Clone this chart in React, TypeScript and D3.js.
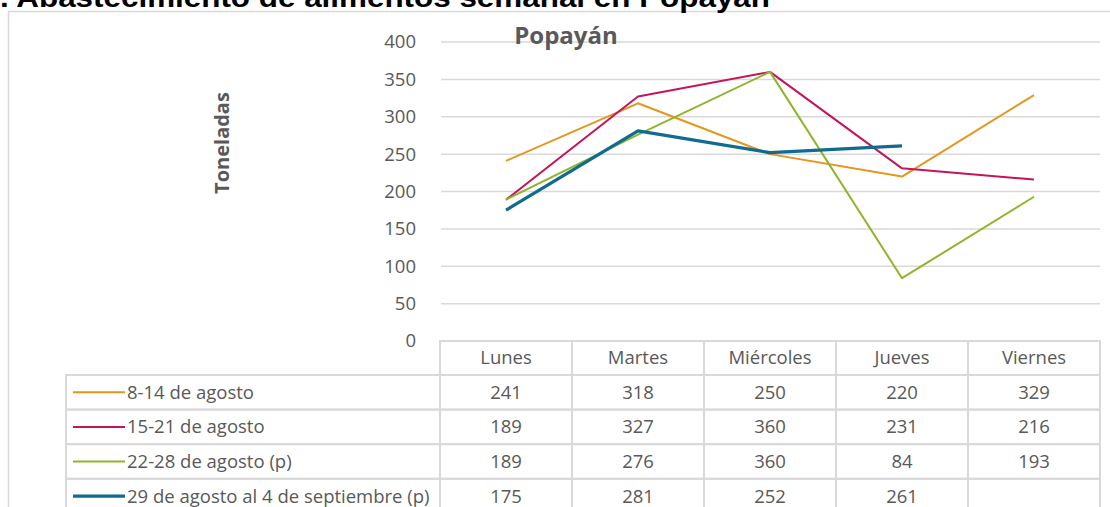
import React from "react";
import * as d3 from "d3";

const days = ["Lunes", "Martes", "Miércoles", "Jueves", "Viernes"];
const seriesNames = [
  "8-14 de agosto",
  "15-21 de agosto",
  "22-28 de agosto (p)",
  "29 de agosto al 4 de septiembre (p)",
];
const s1 = [241, 318, 250, 220, 329];
const s2 = [189, 327, 360, 231, 216];
const s3 = [189, 276, 360, 84, 193];
const s4: (number | null)[] = [175, 281, 252, 261, null];
const yTicks = [0, 50, 100, 150, 200, 250, 300, 350, 400];
const colors = ["#E5961C", "#C3145C", "#8FB52B", "#0F6B8F"];
const widths = [2, 2, 2, 3.2];

const values = [s1, s2, s3, s4];

export default function App() {
  const W = 1110, H = 507;
  const x = d3.scaleBand<string>().domain(days).range([440, 1100]);
  const y = d3.scaleLinear().domain([0, 400]).range([341, 42]);
  const cx = (d: string) => (x(d) as number) + x.bandwidth() / 2;
  const line = d3
    .line<number | null>()
    .defined((d) => d !== null)
    .x((_, i) => cx(days[i]))
    .y((d) => y(d as number));

  const headerTop = 341;
  const headerH = 34;
  const rowH = 34.6;
  const legendLeft = 66;
  const grid = "#d9d9d9";
  const txt = "#595959";
  const font = "'Open Sans', 'Noto Sans', sans-serif";
  const fs = 18.5;

  return (
    <svg
      width={W}
      height={H}
      style={{ position: "absolute", left: 0, top: 0, background: "#fff" }}
      fontFamily={font}
    >
      {/* outer frame */}
      <rect x={8.5} y={11.5} width={1110} height={520} fill="#fff" stroke={grid} strokeWidth={1.5} />
      {/* main title (cut at top) */}
      <text x={0} y={7} fontSize={27} fontWeight="bold" fill="#000"
        textLength={770} lengthAdjust="spacingAndGlyphs"
        fontFamily="'Liberation Sans', Arial, sans-serif">
        . Abastecimiento de alimentos semanal en Popayán
      </text>
      {/* gridlines */}
      {yTicks.slice(1).map((t) => (
        <line key={t} x1={441} x2={1100} y1={y(t)} y2={y(t)} stroke={grid} strokeWidth={1.5} />
      ))}
      {/* y tick labels */}
      {yTicks.map((t) => (
        <text key={t} x={416} y={y(t)} dy="0.35em" textAnchor="end" fontSize={fs} fill={txt}>
          {t}
        </text>
      ))}
      {/* y axis title */}
      <text transform="translate(222,143) rotate(-90)" textAnchor="middle" dy="0.35em" fontSize={20}
        fontWeight="bold" fill={txt}>
        Toneladas
      </text>
      {/* chart title */}
      <text x={566} y={36} dy="0.35em" textAnchor="middle" fontSize={24} fontWeight="bold" fill={txt}>
        Popayán
      </text>
      {/* series lines */}
      {values.map((v, i) => (
        <path key={i} d={line(v) || ""} fill="none" stroke={colors[i]} strokeWidth={widths[i]}
          strokeLinejoin="round" />
      ))}
      {/* data table header */}
      {days.map((d) => (
        <g key={d}>
          <rect x={x(d)} y={headerTop} width={x.bandwidth()} height={headerH} fill="none"
            stroke={grid} strokeWidth={2} />
          <text x={cx(d)} y={headerTop + headerH / 2} dy="0.35em" textAnchor="middle" fontSize={fs} fill={txt}>
            {d}
          </text>
        </g>
      ))}
      {seriesNames.map((name, r) => {
        const top = headerTop + headerH + r * rowH;
        const mid = top + rowH / 2;
        return (
          <g key={name}>
            <rect x={legendLeft} y={top} width={440 - legendLeft} height={rowH} fill="none"
              stroke={grid} strokeWidth={2} />
            <line x1={73} x2={125} y1={mid} y2={mid} stroke={colors[r]} strokeWidth={widths[r]} />
            <text x={127} y={mid} dy="0.35em" fontSize={fs} fill={txt}>
              {name}
            </text>
            {days.map((d, c) => (
              <g key={d}>
                <rect x={x(d)} y={top} width={x.bandwidth()} height={rowH} fill="none"
                  stroke={grid} strokeWidth={2} />
                {values[r][c] !== null && (
                  <text x={cx(d)} y={mid} dy="0.35em" textAnchor="middle" fontSize={fs} fill={txt}>
                    {values[r][c]}
                  </text>
                )}
              </g>
            ))}
          </g>
        );
      })}
    </svg>
  );
}
